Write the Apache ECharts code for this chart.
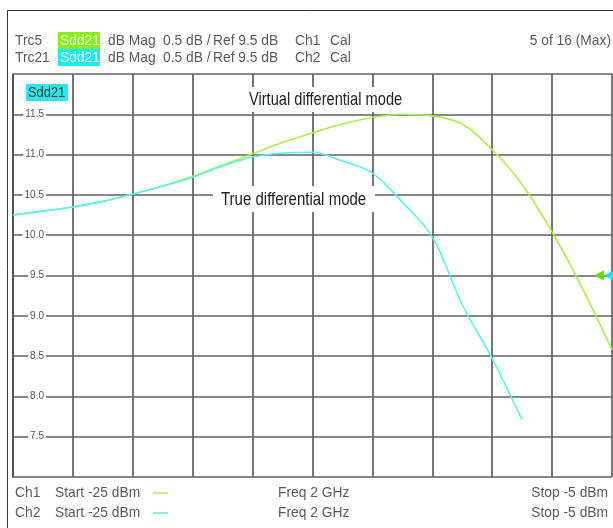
<!DOCTYPE html>
<html>
<head>
<meta charset="utf-8">
<script src="https://cdn.jsdelivr.net/npm/echarts@6/dist/echarts.min.js"></script>
<style>
  html, body { margin: 0; padding: 0; background: #fff; }
  #chart { width: 613px; height: 528px; }
</style>
</head>
<body>
<div id="chart"></div>
<script>
// sweep: power in dBm, 2 dB per division
const powerDbm = [-25, -24, -23, -22, -21, -20, -19, -18, -17, -16, -15, -14, -13, -12, -11, -10, -9, -8, -7, -6, -5];
// Sdd21 in dB
const virtualMode = [10.25, 10.30, 10.35, 10.42, 10.51, 10.61, 10.73, 10.87, 11.01, 11.15, 11.27, 11.38, 11.46, 11.50, 11.48, 11.38, 11.06, 10.63, 10.04, 9.35, 8.58];
const trueMode = [10.25, 10.30, 10.35, 10.42, 10.51, 10.61, 10.72, 10.86, 10.97, 11.02, 11.03, 10.92, 10.77, 10.41, 9.98, 9.14, 8.47, 7.71];
const refLevel = 9.5;

const FONT = "'Liberation Sans', Arial, sans-serif";
const GREEN = '#a8f046';
const CYAN = '#5cf0f0';

const chart = echarts.init(document.getElementById('chart'));

// the analyzer uses a condensed face, so squeeze a regular one
function txt(text, x, y, opts, sx) {
  return {
    type: 'text',
    z: 100,
    x: x, y: y,
    scaleX: sx || 0.92,
    style: Object.assign({
      text: text, x: 0, y: 0,
      font: '15px ' + FONT,
      fill: '#5a5a5a',
      verticalAlign: 'middle'
    }, opts || {})
  };
}

function box(x, y, w, h, color) {
  return { type: 'rect', z: 99, shape: { x: x, y: y, width: w, height: h }, style: { fill: color } };
}

const option = {
  animation: false,
  grid: { left: 13, right: 1, top: 74, bottom: 51 },
  xAxis: {
    type: 'value',
    min: -25, max: -5, interval: 2,
    axisLine: { show: false },
    axisTick: { show: false },
    axisLabel: { show: false },
    splitLine: { lineStyle: { color: '#606060', width: 1.7 } }
  },
  yAxis: {
    type: 'value',
    min: 7, max: 12, interval: 0.5,
    axisLine: { show: true, lineStyle: { color: '#505050', width: 1.7 } },
    axisTick: { show: false },
    axisLabel: {
      inside: true,
      align: 'right',
      margin: 33,
      color: '#555',
      fontFamily: FONT,
      fontSize: 10,
      backgroundColor: '#fff',
      padding: [0, 2],
      formatter: function (v) { return (v === 7 || v === 12) ? '' : v.toFixed(1); }
    },
    splitLine: { lineStyle: { color: '#606060', width: 1.7 } }
  },
  series: [
    {
      name: 'Virtual differential mode',
      type: 'line',
      smooth: 0.35,
      symbol: 'none',
      data: powerDbm.map((p, i) => [p, virtualMode[i]]),
      lineStyle: { color: GREEN, width: 1.6 },
      markPoint: {
        symbol: 'triangle',
        symbolSize: 10,
        symbolRotate: 90,
        symbolOffset: [-13, 0],
        label: { show: false },
        itemStyle: { color: '#66dd00' },
        data: [{ coord: [powerDbm[powerDbm.length - 1], refLevel] }]
      }
    },
    {
      name: 'True differential mode',
      type: 'line',
      smooth: 0.35,
      symbol: 'none',
      data: trueMode.map((v, i) => [powerDbm[i], v]),
      lineStyle: { color: CYAN, width: 1.6 },
      markPoint: {
        symbol: 'triangle',
        symbolSize: 11,
        symbolRotate: 90,
        symbolOffset: [-3, 0],
        label: { show: false },
        itemStyle: { color: '#22e0f0' },
        data: [{ coord: [powerDbm[powerDbm.length - 1], refLevel] }]
      }
    }
  ],
  graphic: [
    // outer frame
    { type: 'rect', z: 1, shape: { x: 7.5, y: 10.5, width: 620, height: 530 }, style: { fill: null, stroke: '#333', lineWidth: 1 } },

    // header
    txt('Trc5', 15, 41),
    txt('Trc21', 15, 58),
    box(58, 32, 42, 17, '#88ee22'),
    box(58, 49, 42, 17, '#22e8f2'),
    txt('Sdd21', 60, 41, { fill: '#e8ffd0' }),
    txt('Sdd21', 60, 58, { fill: '#e0ffff' }),
    txt('dB Mag', 108, 41), txt('0.5 dB /', 163, 41), txt('Ref 9.5 dB', 213, 41), txt('Ch1', 295, 41), txt('Cal', 330, 41),
    txt('dB Mag', 108, 58), txt('0.5 dB /', 163, 58), txt('Ref 9.5 dB', 213, 58), txt('Ch2', 295, 58), txt('Cal', 330, 58),
    txt('5 of 16 (Max)', 611, 41, { align: 'right' }),

    // trace label in grid
    box(26, 84, 42, 17, '#30e4ea'),
    txt('Sdd21', 28, 93, { fill: '#154545', font: '14px ' + FONT }),

    // annotations
    box(242, 87, 178, 25, '#fff'),
    txt('Virtual differential mode', 249, 100, { fill: '#222', font: '19px ' + FONT }, 0.77),
    box(213, 186, 162, 26, '#fff'),
    txt('True differential mode', 221, 200, { fill: '#222', font: '19px ' + FONT }, 0.79),

    // footer
    txt('Ch1', 15, 493), txt('Start -25 dBm', 55, 493),
    { type: 'line', z: 100, shape: { x1: 153, y1: 493, x2: 168, y2: 493 }, style: { stroke: GREEN, lineWidth: 1.5 } },
    txt('Freq 2 GHz', 278, 493),
    txt('Stop -5 dBm', 608, 493, { align: 'right' }),
    txt('Ch2', 15, 513), txt('Start -25 dBm', 55, 513),
    { type: 'line', z: 100, shape: { x1: 153, y1: 513, x2: 168, y2: 513 }, style: { stroke: CYAN, lineWidth: 1.5 } },
    txt('Freq 2 GHz', 278, 513),
    txt('Stop -5 dBm', 608, 513, { align: 'right' })
  ]
};

chart.setOption(option);
</script>
</body>
</html>
